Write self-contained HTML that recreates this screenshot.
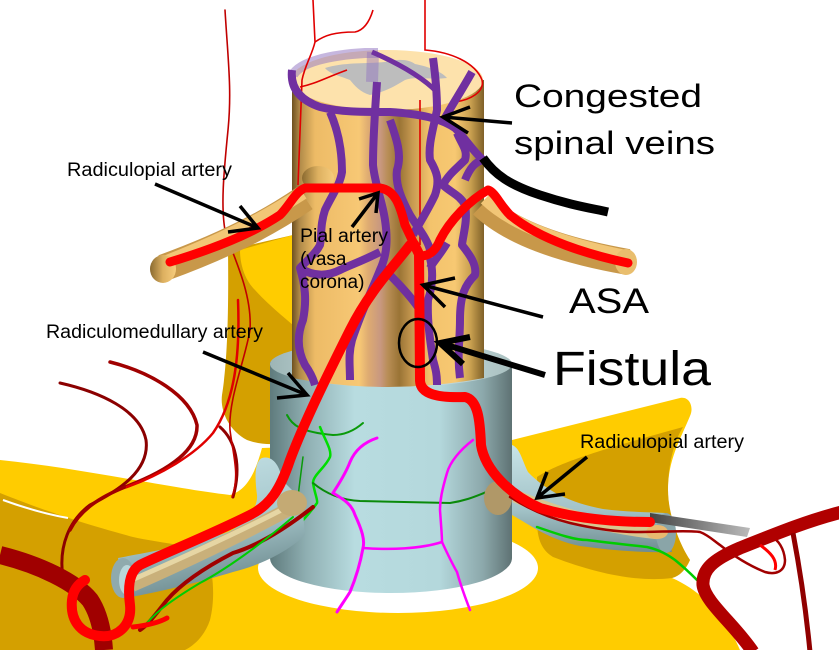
<!DOCTYPE html>
<html><head><meta charset="utf-8"><style>
html,body{margin:0;padding:0;background:#fff;}
svg{display:block;}
text{font-family:"Liberation Sans",Arial,sans-serif;fill:#000;}
</style></head><body>
<svg width="839" height="650" viewBox="0 0 839 650" xmlns="http://www.w3.org/2000/svg">
<defs>
<linearGradient id="cord" x1="292" y1="0" x2="484" y2="0" gradientUnits="userSpaceOnUse">
<stop offset="0" stop-color="#6E5020"/><stop offset="0.04" stop-color="#B08A48"/>
<stop offset="0.12" stop-color="#EDBB66"/><stop offset="0.35" stop-color="#F7C875"/>
<stop offset="0.40" stop-color="#DDAA72"/><stop offset="0.46" stop-color="#C89880"/>
<stop offset="0.50" stop-color="#B88D55"/><stop offset="0.56" stop-color="#9A7435"/>
<stop offset="0.63" stop-color="#C99B52"/><stop offset="0.72" stop-color="#F3C36C"/>
<stop offset="0.85" stop-color="#F7C872"/><stop offset="0.93" stop-color="#C9A050"/>
<stop offset="1" stop-color="#7F6028"/></linearGradient>
<linearGradient id="cyl" x1="270" y1="0" x2="512" y2="0" gradientUnits="userSpaceOnUse">
<stop offset="0" stop-color="#5F7B7D"/><stop offset="0.15" stop-color="#8FAFB2"/>
<stop offset="0.35" stop-color="#B8DCE0"/><stop offset="0.7" stop-color="#B4D8DC"/>
<stop offset="0.88" stop-color="#8CA8AB"/><stop offset="1" stop-color="#5E7273"/></linearGradient>
<linearGradient id="cyltop" x1="270" y1="0" x2="512" y2="0" gradientUnits="userSpaceOnUse">
<stop offset="0" stop-color="#9DB5B5"/><stop offset="0.5" stop-color="#D6ECEF"/>
<stop offset="1" stop-color="#A9C0C0"/></linearGradient>
<linearGradient id="sleeveL" x1="0" y1="0" x2="0.3" y2="1">
<stop offset="0" stop-color="#C8E4E8"/><stop offset="0.55" stop-color="#A9CACF"/>
<stop offset="1" stop-color="#6F8C90"/></linearGradient>
<linearGradient id="sleeveR" x1="0" y1="0" x2="0" y2="1">
<stop offset="0" stop-color="#C8E4E8"/><stop offset="0.6" stop-color="#A3C3C8"/>
<stop offset="1" stop-color="#6F8C90"/></linearGradient>
<linearGradient id="cap" x1="0" y1="0" x2="1" y2="0">
<stop offset="0" stop-color="#8A6A30"/><stop offset="0.5" stop-color="#DDB060"/>
<stop offset="1" stop-color="#F6CC7C"/></linearGradient>
<linearGradient id="wire" x1="650" y1="0" x2="750" y2="0" gradientUnits="userSpaceOnUse">
<stop offset="0" stop-color="#444"/><stop offset="1" stop-color="#BBB"/></linearGradient>
</defs>

<!-- yellow shapes -->
<path d="M0,460 C80,468 170,488 230,495 C248,490 256,470 262,448 L512,440 L680,398 C690,396 694,408 690,416 C680,440 668,460 668,490 C668,520 680,545 690,560 C686,570 680,575 672,578 C700,590 725,615 740,650 L0,650 Z" fill="#FFCC00"/>
<path d="M0,493 C30,505 70,520 133,537 C160,543 190,545 207,553 C214,575 215,600 210,620 C205,635 195,645 185,650 L0,650 Z" fill="#D4A000"/>
<path d="M3,500 C25,508 45,514 68,518" stroke="#fff" stroke-width="2" fill="none"/>
<path d="M537,477 C560,462 600,450 683,427 C672,445 668,470 668,490 C668,515 680,545 690,560 C685,570 680,576 672,578 C640,582 600,575 553,557 C542,550 537,540 537,520 Z" fill="#D4A000"/>
<path d="M228,250 L293,235 L293,440 C280,446 260,445 247,440 C228,430 220,410 222,395 C226,370 229,330 228,250 Z" fill="#D4A000"/>
<path d="M240,250 L293,235 L293,325 C275,310 262,298 255,290 C245,280 240,265 240,250 Z" fill="#FFCC00"/>

<!-- white ellipse -->
<ellipse cx="398" cy="568" rx="140" ry="45" fill="#fff"/>

<!-- thin vessels bottom-left -->
<g fill="none" stroke-linecap="round">
<path d="M60,383 C100,392 140,410 146,440 C150,470 120,490 90,505 C70,520 58,545 63,578" stroke="#8B0000" stroke-width="3"/>
<path d="M110,362 C150,372 190,395 197,425 C198,450 170,470 125,487 C100,497 80,510 70,530" stroke="#A00000" stroke-width="3.5"/>
<path d="M238,300 C240,350 236,400 213,433 C195,455 160,475 127,487" stroke="#E00000" stroke-width="2.5"/>
<path d="M220,427 C235,440 242,465 233,497" stroke="#900000" stroke-width="3"/>
<path d="M225,10 C228,60 232,90 228,130 C224,170 220,210 226,235 C240,270 252,300 250,330 C245,360 228,400 230,430 C233,455 240,475 232,497" stroke="#C00000" stroke-width="1.6"/>
</g>

<!-- dark red thick vessel bottom-left -->
<path d="M0,555 C40,565 75,582 90,600 C100,615 103,635 104,650" stroke="#A00000" stroke-width="18" fill="none"/>

<!-- gray cylinder -->
<path d="M270,362 L270,558 A121,35 0 0 0 512,558 L512,362 Z" fill="url(#cyl)"/>
<ellipse cx="391" cy="364" rx="121" ry="23" fill="url(#cyltop)"/>

<!-- green / magenta on cylinder -->
<g fill="none" stroke-linecap="round">
<path d="M287,415 C292,425 300,432 333,435 C345,435 355,430 363,423" stroke="#0A9A0A" stroke-width="2"/>
<path d="M320,427 C325,440 332,450 330,457 C325,468 313,475 313,483 C315,495 318,500 317,503 C305,520 295,528 290,533" stroke="#00DD00" stroke-width="2.5"/>
<path d="M313,483 C325,493 340,500 360,501 L450,503 C470,500 480,494 492,490" stroke="#0A8A0A" stroke-width="2"/>
<path d="M303,457 C300,480 298,495 297,507" stroke="#0A9A0A" stroke-width="1.5"/>
<path d="M377,438 C365,442 355,450 350,462 C345,475 338,485 333,493 C345,500 352,505 355,515 C362,530 365,540 363,548 C360,565 355,580 350,592 C345,600 340,607 337,612" stroke="#FF00FF" stroke-width="3"/>
<path d="M363,548 C390,550 420,549 442,542" stroke="#FF00FF" stroke-width="2.5"/>
<path d="M473,440 C460,450 450,462 447,473 C442,490 440,500 440,510 C441,525 442,535 442,542 C448,555 453,565 457,572 C462,590 467,602 470,610" stroke="#FF00FF" stroke-width="2.5"/>
</g>

<!-- left sleeve -->
<path d="M262,458 C272,455 280,465 282,480 L302,500 L305,535 C290,550 262,565 233,572 C200,582 160,592 125,598 L118,558 C160,550 200,543 228,532 C250,522 258,505 257,495 C255,480 254,462 262,458 Z" fill="url(#sleeveL)"/>
<path d="M300,503 C260,525 200,555 132,585" stroke="#C9B07A" stroke-width="14" fill="none"/>
<path d="M300,500 C260,522 200,550 134,579" stroke="#E6D6A4" stroke-width="5" fill="none"/>
<ellipse cx="292" cy="503" rx="15" ry="13" fill="#C4AA74"/>
<ellipse cx="123" cy="578" rx="12" ry="20" fill="#8FAAAD"/>
<ellipse cx="127" cy="580" rx="8" ry="15" fill="#B9D6DA"/>
<g fill="none" stroke-linecap="round">
<path d="M313,507 C290,525 260,545 233,553 C200,570 180,585 167,600 C155,615 148,625 140,630" stroke="#A00000" stroke-width="4"/>
<path d="M293,517 C260,545 225,570 200,583 C175,598 158,610 147,623" stroke="#00CC00" stroke-width="2"/>
</g>

<!-- right sleeve -->
<path d="M512,445 C520,448 522,460 528,472 C545,490 570,503 603,509 C625,512 645,512 665,513 L672,552 C640,553 610,550 580,546 C550,540 530,525 512,515 Z" fill="url(#sleeveR)"/>
<path d="M515,496 C560,515 610,528 660,533" stroke="#D8C690" stroke-width="13" fill="none"/>
<ellipse cx="498" cy="498" rx="14" ry="17" fill="#B09868"/>
<ellipse cx="666" cy="533" rx="10" ry="20" fill="#8AA5A8"/>
<ellipse cx="657" cy="532" rx="11" ry="7" fill="#E8B870"/>
<polygon points="650,513 750,528 747,537 650,522" fill="url(#wire)"/>
<g fill="none" stroke-linecap="round">
<path d="M510,497 C530,510 550,518 570,523 C600,530 620,532 637,532 C660,532 690,530 700,532 C708,535 713,540 720,545 C735,557 750,566 765,572 C775,575 785,572 785,560 C784,548 778,540 772,537" stroke="#A00000" stroke-width="2.5"/>
<path d="M537,527 C560,535 575,540 587,540 C610,543 630,545 647,547 C660,550 668,555 675,560 C685,568 692,575 697,580" stroke="#00CC00" stroke-width="2.5"/>
</g>

<!-- bottom-right vessels -->
<path d="M753,652 C735,625 705,602 703,585 C702,570 712,560 740,548 C780,532 810,520 842,512" stroke="#B00000" stroke-width="13" fill="none"/>
<path d="M793,533 C800,570 806,610 810,652" stroke="#900000" stroke-width="5" fill="none"/>
<path d="M760,545 C770,552 778,560 775,570" stroke="#FF0000" stroke-width="3" fill="none"/>

<!-- cord -->
<path d="M292,80 L292,378 Q388,396 484,378 L484,80 Z" fill="url(#cord)"/>
<ellipse cx="387" cy="80" rx="96" ry="30" fill="#FDE2AC"/>
<path d="M325,68 C345,62 365,64 385,62 C400,58 410,60 415,64 C425,66 440,70 447,78 C430,80 415,76 405,80 C395,86 385,92 370,95 C360,92 355,86 350,80 C340,76 330,74 325,68 Z" fill="#BDBDBD"/>
<path d="M293,75 C300,62 330,55 365,53 L378,53" stroke="#8E6FBF" stroke-width="10" fill="none" opacity="0.5"/>
<path d="M373,52 L372,82" stroke="#8E6FBF" stroke-width="12" fill="none" opacity="0.45"/>
<ellipse cx="318" cy="178" rx="16" ry="12" fill="url(#cap)"/>

<!-- left root -->
<path d="M305,198 C280,215 240,240 163,268" stroke="#C8984A" stroke-width="27" fill="none"/>
<path d="M303,193 C278,209 240,233 163,263" stroke="#F2C676" stroke-width="13" fill="none"/>
<ellipse cx="163" cy="269" rx="13" ry="14" fill="url(#cap)"/>
<!-- right root -->
<path d="M482,205 C510,232 560,250 628,262" stroke="#C8984A" stroke-width="26" fill="none"/>
<path d="M485,199 C512,225 560,243 626,256" stroke="#F2C676" stroke-width="12" fill="none"/>
<ellipse cx="626" cy="262" rx="11" ry="13" fill="#E9BE6E"/>

<!-- thin red on cord -->
<g fill="none" stroke="#E00000" stroke-width="1.6">
<path d="M313,0 L315,42 C312,55 305,65 302,80 L298,185"/>
<path d="M315,42 C325,35 335,32 355,32 C365,30 370,20 373,10"/>
<path d="M425,0 L425,50 C450,52 475,62 482,80 C485,92 470,100 455,102"/>
<path d="M420,100 L420,245"/>
<path d="M300,87 C315,84 325,78 347,70"/>
</g>

<!-- purple veins -->
<g fill="none" stroke="#7030A0" stroke-width="8" stroke-linecap="butt" stroke-linejoin="round">
<path d="M292,70 C290,88 300,100 320,107 C340,112 360,112 390,112 C420,114 440,118 455,128 C465,138 472,150 483,160"/>
<path d="M377,82 C375,110 373,140 373,165 C375,185 382,200 385,220 C388,240 387,255 380,270 C372,290 362,310 352,340 C348,355 350,365 350,380"/>
<path d="M330,112 C338,130 342,150 342,172 C340,185 332,195 325,210 C320,225 322,235 320,245 C315,255 305,262 300,268 C305,285 307,300 303,320 C297,335 297,350 305,365 C310,372 313,378 315,385"/>
<path d="M300,268 C315,278 330,275 340,270 C350,265 360,262 380,252"/>
<path d="M390,120 C397,140 402,155 397,170 C395,185 402,200 410,215 C418,228 428,240 430,250"/>
<path d="M433,58 C436,80 437,100 437,110 C433,130 428,145 430,160 C437,172 440,180 435,195 C428,210 420,222 413,235"/>
<path d="M472,72 C462,90 452,105 445,118"/>
<path d="M457,133 C462,145 468,150 465,160 C455,170 448,175 443,185 C450,192 460,195 465,205 C468,220 463,235 462,245 C470,255 477,265 475,275 C465,285 460,295 460,320 C460,340 457,355 460,378"/>
<path d="M483,160 C475,162 470,168 465,180"/>
<path d="M430,258 C433,270 433,285 428,300 C427,320 430,340 433,360 C436,370 437,375 437,385"/>
<path d="M380,265 C395,280 410,295 420,310"/>
<path d="M447,243 C440,255 433,262 430,268"/>
<path d="M372,52 C395,62 420,75 437,92" stroke-width="5"/>
</g>

<!-- red arteries -->
<g fill="none" stroke="#FF0000" stroke-linecap="round" stroke-linejoin="round">
<path d="M170,262 C210,250 250,235 280,215 C290,205 295,192 305,188 L380,188 C395,190 400,205 405,225 L414,244" stroke-width="9"/>
<path d="M628,263 C590,255 540,240 510,215 C500,205 495,192 488,190 C470,200 450,220 440,240 C436,250 430,256 420,256" stroke-width="9"/>
<path d="M414,244 L419,254 L420,380 C420,395 440,398 465,397 C478,400 480,420 481,445 C485,470 510,495 540,508 C580,520 620,522 650,522" stroke-width="10"/>
<path d="M410,245 C395,265 370,290 350,330 C330,370 305,420 290,460 C280,490 270,505 250,515 C210,535 160,555 140,565 C128,572 128,590 130,605 C132,625 118,638 100,636 C80,634 70,620 72,600 C73,590 78,584 85,580" stroke-width="10"/>
<path d="M133,627 C150,625 160,622 167,618" stroke-width="5"/>
</g>

<!-- black lines / arrows -->
<g fill="none" stroke="#000" stroke-linecap="butt">
<path d="M483,158 C495,175 510,185 540,195 C570,205 590,208 608,212" stroke-width="9"/>
<g stroke-width="3.5">
<path d="M512,123 L443,117 M470,107 L443,117 L468,133"/>
<path d="M155,184 L258,228 M240,206 L258,228 L228,232"/>
<path d="M352,227 L378,193 M359,199 L378,193 L376,213"/>
<path d="M543,317 L423,285 M455,278 L423,285 L445,307"/>
<path d="M203,352 L307,395 M288,373 L307,395 L277,398"/>
<path d="M587,457 L537,498 M547,472 L537,498 L565,494"/>
</g>
<path d="M545,375 L440,343 M470,337 L440,343 L463,364" stroke-width="6"/>
<ellipse cx="418" cy="343" rx="19" ry="24" stroke-width="2.5"/>
</g>

<!-- labels -->
<text x="514" y="107" font-size="32" textLength="188" lengthAdjust="spacingAndGlyphs">Congested</text>
<text x="514" y="154" font-size="32" textLength="201" lengthAdjust="spacingAndGlyphs">spinal veins</text>
<text x="569" y="313" font-size="35" textLength="80" lengthAdjust="spacingAndGlyphs">ASA</text>
<text x="553" y="385" font-size="48" textLength="158" lengthAdjust="spacingAndGlyphs">Fistula</text>
<text x="67" y="176" font-size="19" textLength="165" lengthAdjust="spacingAndGlyphs">Radiculopial artery</text>
<text x="46" y="338" font-size="19" textLength="217" lengthAdjust="spacingAndGlyphs">Radiculomedullary artery</text>
<text x="580" y="448" font-size="19" textLength="164" lengthAdjust="spacingAndGlyphs">Radiculopial artery</text>
<text x="300" y="242" font-size="19" textLength="88" lengthAdjust="spacingAndGlyphs">Pial artery</text>
<text x="300" y="265" font-size="19">(vasa</text>
<text x="300" y="288" font-size="19">corona)</text>
</svg>
</body></html>
